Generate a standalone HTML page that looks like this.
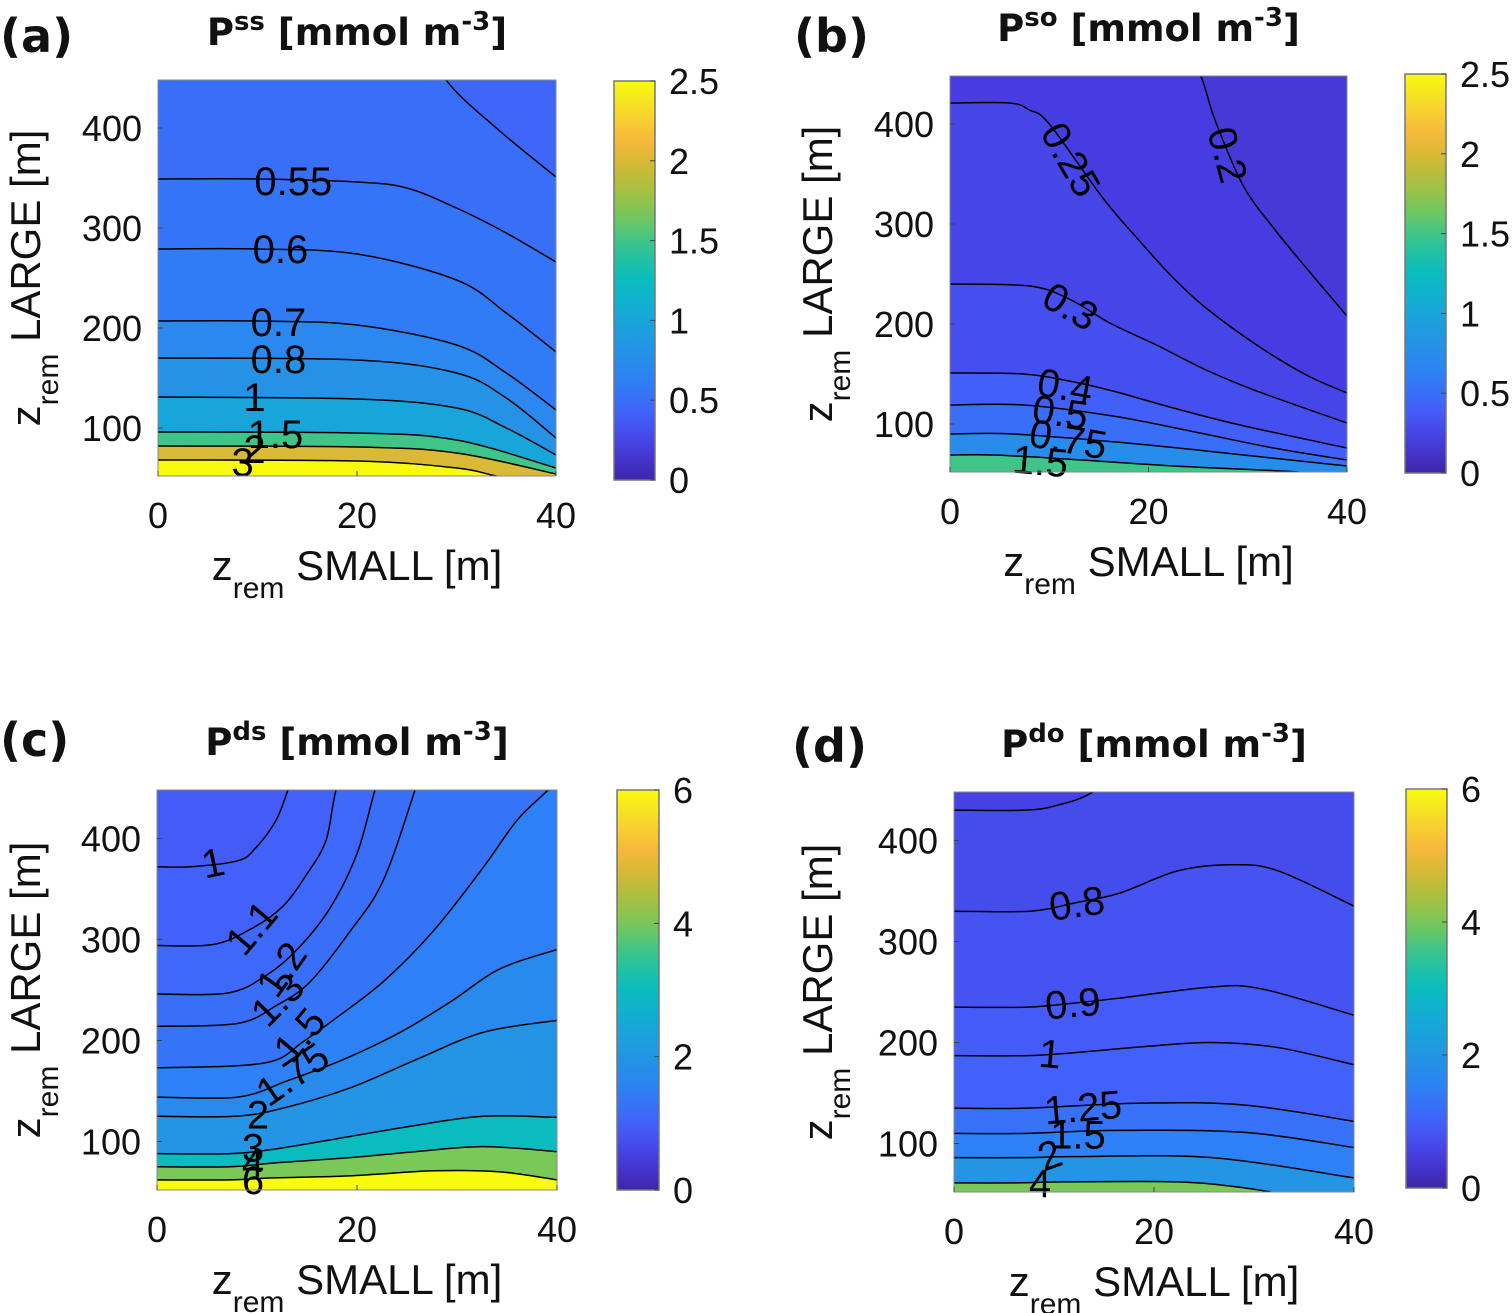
<!DOCTYPE html>
<html><head><meta charset="utf-8"><style>
html,body{margin:0;padding:0;background:#fff;overflow:hidden;}
svg{display:block;font-family:"Liberation Sans","DejaVu Sans",sans-serif;}
</style></head><body>
<svg id="fig" width="1512" height="1313" viewBox="0 0 1512 1313" xmlns="http://www.w3.org/2000/svg"></svg>
<script>
// ---------- Panel (a) data ----------
const aLevels = [0.5, 0.55, 0.6, 0.7, 0.8, 1, 1.5, 2, 3];
const aContours = [
  [[0,900],[25,520],[28.8,450],[34,400],[40,351]],
  [[0,349],[10,349],[20,346],[25,340],[30,320],[35,295],[40,266]],
  [[0,279],[10,279],[20,274],[30,248],[35,215],[40,176]],
  [[0,207],[10,207],[20,203],[30,183],[35,155],[40,118]],
  [[0,170],[20,168],[30,155],[35,130],[40,90]],
  [[0,131],[20,129],[30,120],[35,100],[40,73]],
  [[0,96],[20,95],[30,88],[40,60]],
  [[0,82],[20,81],[30,75],[40,54]],
  [[0,68],[20,67],[30,60],[34,52],[40,40]]
];
const aLabels = [["0.55",13.6,346,0],["0.6",12.3,278,0],["0.7",12.1,205,0],["0.8",12.1,168,0],["1",9.7,130,0],["1.5",11.8,93,0],["2",9.7,78,0],["3",8.5,65,0]];
// ---------- Panel (b) data ----------
const bLevels = [0.2, 0.25, 0.3, 0.4, 0.5, 0.75, 1.5];
const bContours = [
  [[0,900],[22,520],[25.2,450],[26.7,404],[29.5,339],[32.6,296],[35.9,256],[40,208]],
  [[0,421],[6,421],[8,414],[10,400],[15.4,326],[19.1,283],[22.5,246],[25.8,216],[30.9,179],[35.9,149],[40,131]],
  [[0,240],[8,238],[12,225],[16.1,201],[20.8,179],[25.8,154],[30.9,133],[40,101]],
  [[0,151],[7.4,150],[12,143],[16.4,133],[22.5,116],[29.2,99],[40,76]],
  [[0,119],[7.4,119],[16.4,108],[24.2,93],[32.6,76],[40,64]],
  [[0,90],[6.4,90],[17.8,81],[25.8,73],[40,58]],
  [[0,69],[4.4,69],[11.7,65],[22.5,58],[35,52],[40,45]]
];
const bLabels = [["0.25",12.1,364,60],["0.2",27.9,369,75],["0.3",12.1,217,30],["0.4",11.6,137,10],["0.5",11.1,111,8],["0.75",11.9,84,10],["1.5",9.1,62,5]];
// ---------- Panel (c) data ----------
const cLevels = [1, 1.1, 1.2, 1.3, 1.5, 1.75, 2, 3, 4, 6];
const cContours = [
  [[0,372],[3.4,372],[8.1,378],[9.9,391],[11.9,418],[13.1,448],[15,500],[40,900]],
  [[0,294],[5.6,295],[9.5,311],[12.6,333],[15,365],[16.9,398],[17.9,448],[20,520],[40,900]],
  [[0,246],[7.1,247],[11,265],[14.1,291],[17.3,331],[20,385],[21.8,448],[24,520],[40,900]],
  [[0,214],[8.1,217],[12,235],[15.3,258],[19.3,308],[22.6,358],[25.8,448],[28,520],[40,900]],
  [[0,173],[8,175],[12,181],[14.5,198],[17.6,220],[22.6,258],[27.6,308],[32.6,371],[36,418],[39.1,448],[40,460]],
  [[0,144],[8.1,144],[13,160],[18.6,181],[24.3,208],[29.3,238],[34.3,271],[40,290]],
  [[0,125],[7.8,125],[12.6,133],[19.3,153],[25.9,181],[32.6,208],[40,220]],
  [[0,88],[7.4,88],[12.1,93],[19.3,105],[25.9,116],[32.6,125],[40,124]],
  [[0,75],[7.3,75],[12,79],[19.3,84],[25.9,90],[32.6,95],[40,90]],
  [[0,62],[7.3,62],[11.6,64],[19.3,66],[27.7,71],[34.3,70],[40,62]]
];
const cLabels = [["1",5.6,375,-12],["1.1",9.5,311,-50],["1.2",12.5,270,-55],["1.3",12.1,240,-45],["1.5",14.3,205,-50],["1.75",13.6,166,-35],["2",10.1,126,0],["3",9.6,93,0],["4",9.6,78,0],["6",9.6,61,0]];
// ---------- Panel (d) data ----------
const dLevels = [0.7, 0.8, 0.9, 1, 1.25, 1.5, 2, 4];
const dContours = [
  [[0,430],[7.1,430],[10.4,435],[13.9,448],[18,480],[40,700]],
  [[0,330],[7.6,330],[12,338],[16.6,348],[22.4,370],[27.8,376],[32.4,370],[40,335]],
  [[0,235],[7.4,235],[12,239],[16.6,244],[25.8,255],[30.8,253],[40,227]],
  [[0,187],[7.4,187],[12.1,190],[19.1,196],[25.8,200],[32.4,195],[40,178]],
  [[0,135],[7.1,135],[18.8,140],[29.1,138],[40,122]],
  [[0,110],[7.1,110],[16.4,113],[29.1,111],[40,96]],
  [[0,86],[7.3,86],[12.1,87],[25.8,86],[40,66]],
  [[0,61],[6.3,61],[10.9,62],[22.4,62],[29.1,56],[33.8,48],[40,35]]
];
const dLabels = [["0.8",12.3,337,-8],["0.9",11.9,238,-5],["1",9.6,188,5],["1.25",12.9,135,-5],["1.5",12.4,108,0],["2",9.6,88,-20],["4",8.6,60,0]];
const xTicks = [0, 20, 40];
const yTicks = [100, 200, 300, 400];
const cbTicksA = ["0","0.5","1","1.5","2","2.5"];
const cbTicksC = ["0","2","4","6"];

const NS = "http://www.w3.org/2000/svg";
const svg = document.getElementById('fig');
const stops = [[0,[62,38,168]],[0.08,[71,60,225]],[0.16,[67,95,250]],[0.25,[45,128,245]],[0.33,[36,148,228]],[0.42,[20,170,215]],[0.5,[10,188,190]],[0.58,[45,196,150]],[0.67,[125,200,85]],[0.78,[205,185,50]],[0.86,[252,185,60]],[0.93,[245,220,40]],[1,[249,251,14]]];
function parula(t){
  t = Math.max(0, Math.min(1, t));
  for (let i = 1; i < stops.length; i++) {
    if (t <= stops[i][0]) {
      const a = stops[i-1], b = stops[i], f = (t - a[0]) / (b[0] - a[0]);
      const c = a[1].map((v, k) => Math.round(v + (b[1][k] - v) * f));
      return `rgb(${c[0]},${c[1]},${c[2]})`;
    }
  }
  return 'rgb(249,251,14)';
}
function mk(tag, attrs, parent){
  const e = document.createElementNS(NS, tag);
  for (const k in attrs) e.setAttribute(k, attrs[k]);
  (parent || svg).appendChild(e);
  return e;
}
function txt(parent, x, y, s, size, anchor, extra){
  const t = mk('text', Object.assign({x:x, y:y, 'font-size':size, 'text-anchor':anchor||'middle', fill:'#111'}, extra||{}), parent);
  t.textContent = s;
  return t;
}
function smooth(p){
  let d = `M${p[0][0]},${p[0][1]}`;
  for (let i = 0; i < p.length - 1; i++) {
    const p0 = p[i-1] || p[i], p1 = p[i], p2 = p[i+1], p3 = p[i+2] || p2;
    const c1 = [p1[0] + (p2[0]-p0[0])/6, p1[1] + (p2[1]-p0[1])/6];
    const c2 = [p2[0] - (p3[0]-p1[0])/6, p2[1] - (p3[1]-p1[1])/6];
    d += ` C${c1[0]},${c1[1]} ${c2[0]},${c2[1]} ${p2[0]},${p2[1]}`;
  }
  return d;
}
const YMIN = 52, YMAX = 448;

function panel(id, box, cb, cmax, cbTicks, levels, contours, labels, base, letter, sup, lx){
  const g = mk('g', {});
  
  
  const sx = v => box.l + (v - 0) / 40 * (box.r - box.l);
  const sy = v => box.b - (v - YMIN) / (YMAX - YMIN) * (box.b - box.t);
  const clip = mk('clipPath', {id: 'clip' + id}, g);
  mk('rect', {x: box.l, y: box.t, width: box.r - box.l, height: box.b - box.t}, clip);
  const pg = mk('g', {'clip-path': `url(#clip${id})`}, g);
  const bg = mk('rect', {x: box.l, y: box.t, width: box.r - box.l, height: box.b - box.t, fill: parula(base / cmax)}, pg);
  
  
  levels.forEach((lv, i) => {
    const pts = contours[i].map(p => [sx(p[0]), sy(p[1])]);
    const d = smooth(pts) + ` L${sx(40)},${sy(-500)} L${sx(0)},${sy(-500)} Z`;
    const poly = mk('path', {d: d, fill: parula(Math.min(lv, cmax) / cmax)}, pg);
    
    
  });
  levels.forEach((lv, i) => {
    const pts = contours[i].map(p => [sx(p[0]), sy(p[1])]);
    const line = mk('path', {d: smooth(pts), fill: 'none', stroke: '#000', 'stroke-width': 1.5}, pg);
    
    
  });
  labels.forEach(l => {
    const x = sx(l[1]), y = sy(l[2]);
    const t = txt(g, x, y, l[0], 40, 'middle', {'dominant-baseline': 'central', transform: `rotate(${l[3]} ${x} ${y})`, fill: '#000'});
    
    
  });
  const frame = mk('rect', {x: box.l, y: box.t, width: box.r - box.l, height: box.b - box.t, fill: 'none', stroke: '#888', 'stroke-width': 1}, g);
  
  
  xTicks.forEach(v => {
    mk('line', {x1: sx(v), x2: sx(v), y1: box.b, y2: box.b - 5, stroke: '#444'}, g);
    const t = txt(g, sx(v), box.b + 52, String(v), 36);
    
    
  });
  yTicks.forEach(v => {
    mk('line', {x1: box.l, x2: box.l + 5, y1: sy(v), y2: sy(v), stroke: '#444'}, g);
    const t = txt(g, box.l - 16, sy(v) + 13, String(v), 36, 'end');
    
    
  });
  const xt = mk('text', {x: (box.l + box.r) / 2, y: box.b + 104, 'font-size': 42, 'text-anchor': 'middle', fill: '#111'}, g);
  
  
  xt.innerHTML = 'z<tspan font-size="30" dy="18">rem</tspan><tspan dy="-18"> SMALL [m]</tspan>';
  const cyy = (box.t + box.b) / 2;
  const yt = mk('text', {x: lx, y: cyy, 'font-size': 42, 'text-anchor': 'middle', fill: '#111', transform: `rotate(-90 ${lx} ${cyy})`}, g);
  
  
  yt.innerHTML = 'z<tspan font-size="30" dy="18">rem</tspan><tspan dy="-18"> LARGE [m]</tspan>';
  const tt = mk('text', {x: (box.l + box.r) / 2, y: box.t - 35, 'font-size': 37, 'font-weight': 'bold', 'text-anchor': 'middle', fill: '#111', 'font-family': '"DejaVu Sans","Liberation Sans",sans-serif'}, g);
  
  
  tt.innerHTML = `P<tspan font-size="26" dy="-15">${sup}</tspan><tspan dy="15"> [mmol m</tspan><tspan font-size="26" dy="-15">-3</tspan><tspan dy="15">]</tspan>`;
  const lt = txt(g, letter[1], letter[2], letter[0], 46, 'start', {'font-weight': 'bold', 'font-family': '"DejaVu Sans","Liberation Sans",sans-serif'});
  
  
  const gid = 'grad' + id;
  const grad = mk('linearGradient', {id: gid, x1: 0, y1: 1, x2: 0, y2: 0}, g);
  for (let i = 0; i <= 20; i++) mk('stop', {offset: i / 20, 'stop-color': parula(i / 20)}, grad);
  const cbr = mk('rect', {x: cb.l, y: cb.t, width: cb.w, height: cb.b - cb.t, fill: `url(#${gid})`, stroke: '#777', 'stroke-width': 1.5}, g);
  
  
  cbTicks.forEach(s => {
    const y = cb.b - parseFloat(s) / cmax * (cb.b - cb.t);
    mk('line', {x1: cb.l + cb.w, x2: cb.l + cb.w - 5, y1: y, y2: y, stroke: '#444'}, g);
    const t = txt(g, cb.l + cb.w + 14, y + 13, s, 36, 'start');
    
    
  });
}
panel('a', {l:158, r:556, t:80, b:476}, {l:614, w:41, t:81, b:480}, 2.5, cbTicksA, aLevels, aContours, aLabels, 0.45, ['(a)', 0, 52], 'ss', 40);
panel('b', {l:950, r:1347, t:76, b:472}, {l:1405, w:41, t:74, b:473}, 2.5, cbTicksA, bLevels, bContours, bLabels, 0.17, ['(b)', 794, 52], 'so', 832);
panel('c', {l:157, r:557, t:790, b:1190}, {l:617, w:42, t:790, b:1190}, 6, cbTicksC, cLevels, cContours, cLabels, 0.9, ['(c)', 0, 756], 'ds', 40);
panel('d', {l:954, r:1354, t:792, b:1192}, {l:1406, w:41, t:789, b:1188}, 6, cbTicksC, dLevels, dContours, dLabels, 0.55, ['(d)', 792, 762], 'do', 832);
</script>
</body></html>
